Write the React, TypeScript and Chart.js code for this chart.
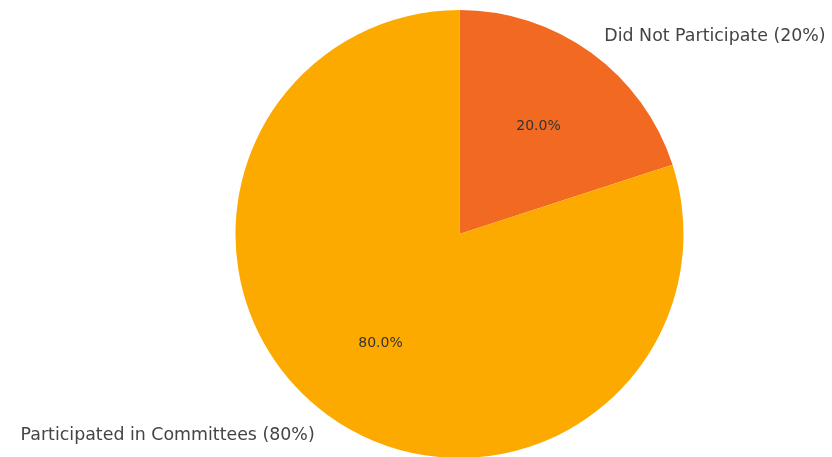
import React, { useEffect, useRef } from "react";
import { Chart, registerables } from "chart.js";

Chart.register(...registerables);

const labels = ["Did Not Participate (20%)", "Participated in Committees (80%)"];
const values = [20, 80];
const colors = ["#F26A22", "#FDAA00"];

const labelPlugin = {
  id: "pieLabels",
  afterDatasetsDraw(chart: any) {
    const ctx = chart.ctx;
    const meta = chart.getDatasetMeta(0);
    const total = values.reduce((a, b) => a + b, 0);
    ctx.save();
    meta.data.forEach((arc: any, i: number) => {
      const { x, y, startAngle, endAngle, outerRadius } = arc.getProps(
        ["x", "y", "startAngle", "endAngle", "outerRadius"],
        true
      );
      const mid = (startAngle + endAngle) / 2;
      const c = Math.cos(mid);
      const s = Math.sin(mid);
      ctx.font = "17.4px 'DejaVu Sans'";
      ctx.fillStyle = "#444";
      ctx.textBaseline = "middle";
      ctx.textAlign = c >= 0 ? "left" : "right";
      ctx.fillText(labels[i], x + 1.1 * outerRadius * c, y + 1.1 * outerRadius * s + 2);
      ctx.font = "14px 'DejaVu Sans'";
      ctx.fillStyle = "#333";
      ctx.textAlign = "center";
      ctx.fillText(
        ((values[i] / total) * 100).toFixed(1) + "%",
        x + 0.6 * outerRadius * c,
        y + 0.6 * outerRadius * s + 1
      );
    });
    ctx.restore();
  },
};

export default function App() {
  const ref = useRef<HTMLCanvasElement | null>(null);
  useEffect(() => {
    if (!ref.current) return;
    const chart = new Chart(ref.current, {
      type: "pie",
      data: {
        labels,
        datasets: [
          {
            data: values,
            backgroundColor: colors,
            borderWidth: 0,
          },
        ],
      },
      options: {
        responsive: false,
        animation: false,
        layout: { padding: { top: 10, bottom: 12, left: 235, right: 148 } },
        plugins: {
          legend: { display: false },
          tooltip: { enabled: false },
        },
      },
      plugins: [labelPlugin],
    });
    return () => chart.destroy();
  }, []);
  return (
    <div
      style={{
        position: "fixed",
        left: 0,
        top: 0,
        width: 832,
        height: 457,
        overflow: "hidden",
        background: "#fff",
      }}
    >
      <canvas ref={ref} width={832} height={470} style={{ display: "block" }} />
    </div>
  );
}
